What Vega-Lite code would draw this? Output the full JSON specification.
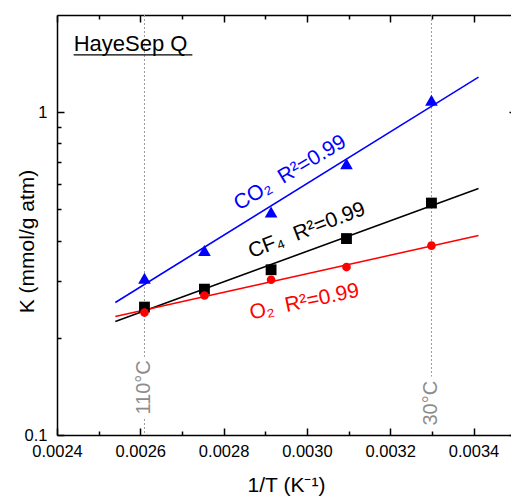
{
  "$schema": "https://vega.github.io/schema/vega-lite/v6.json",
  "width": 454,
  "height": 420,
  "autosize": "none",
  "padding": {"left": 57, "top": 15, "right": 0, "bottom": 62},
  "background": "white",
  "config": {
    "view": {"stroke": null},
    "font": "Liberation Sans",
    "axis": {
      "grid": false,
      "domainColor": "black",
      "domainWidth": 1.5,
      "tickColor": "black",
      "tickWidth": 1.5,
      "labelColor": "black",
      "titleColor": "black",
      "labelFont": "Liberation Sans",
      "titleFont": "Liberation Sans",
      "labelFontSize": 16.5,
      "titleFontSize": 21,
      "titleFontWeight": "normal",
      "labelFlush": false,
      "labelOverlap": false
    }
  },
  "datasets": {
    "points": [
      {"gas": "CO2", "invT": 0.00261, "K": 0.306},
      {"gas": "CO2", "invT": 0.002754, "K": 0.373},
      {"gas": "CO2", "invT": 0.002914, "K": 0.491},
      {"gas": "CO2", "invT": 0.003095, "K": 0.692},
      {"gas": "CO2", "invT": 0.003299, "K": 1.089},
      {"gas": "CF4", "invT": 0.00261, "K": 0.249},
      {"gas": "CF4", "invT": 0.002754, "K": 0.283},
      {"gas": "CF4", "invT": 0.002914, "K": 0.325},
      {"gas": "CF4", "invT": 0.003095, "K": 0.406},
      {"gas": "CF4", "invT": 0.003299, "K": 0.523},
      {"gas": "O2", "invT": 0.00261, "K": 0.2395},
      {"gas": "O2", "invT": 0.002754, "K": 0.2705},
      {"gas": "O2", "invT": 0.002914, "K": 0.3027},
      {"gas": "O2", "invT": 0.003095, "K": 0.3313},
      {"gas": "O2", "invT": 0.003299, "K": 0.386}
    ],
    "fits": [
      {"gas": "CO2", "invT": 0.00254, "K": 0.2573},
      {"gas": "CO2", "invT": 0.003412, "K": 1.284},
      {"gas": "CF4", "invT": 0.00254, "K": 0.2246},
      {"gas": "CF4", "invT": 0.003412, "K": 0.58},
      {"gas": "O2", "invT": 0.00254, "K": 0.2328},
      {"gas": "O2", "invT": 0.003412, "K": 0.415}
    ],
    "temps": [
      {"label": "110°C", "invT": 0.00261, "K": 0.1404},
      {"label": "30°C", "invT": 0.003299, "K": 0.1254}
    ],
    "guides": [
      {"invT": 0.00261, "top": 2, "bottom": 0.1746},
      {"invT": 0.00261, "top": 0.1121, "bottom": 0.1},
      {"invT": 0.003299, "top": 2, "bottom": 0.1517}
    ],
    "notes": [
      {"gas": "CO2", "label": "CO₂\u00a0\u00a0R²=0.99", "invT": 0.00296, "K": 0.648},
      {"gas": "CF4", "label": "CF₄\u00a0\u00a0R²=0.99", "invT": 0.0030, "K": 0.43},
      {"gas": "O2", "label": "O₂\u00a0\u00a0R²=0.99", "invT": 0.002994, "K": 0.258}
    ],
    "titleRow": [
      {"label": "HayeSep Q", "invT": 0.00244, "invT2": 0.002725, "K": 1.546, "Kline": 1.505}
    ]
  },
  "resolve": {"axis": {"x": "independent", "y": "independent"}},
  "layer": [
    {
      "data": {"name": "guides"},
      "mark": {"type": "rule", "color": "#999999", "strokeWidth": 1, "strokeDash": [2, 2]},
      "encoding": {
        "x": {"field": "invT", "type": "quantitative",
          "scale": {"domain": [0.0024, 0.00349], "nice": false, "zero": false},
          "axis": {"orient": "bottom", "title": "1/T (K⁻¹)", "values": [0.0024, 0.0026, 0.0028, 0.003, 0.0032, 0.0034],
            "format": ".4f", "tickSize": -7, "labelPadding": 15, "titleX": 229, "titleY": 56, "titleBaseline": "alphabetic", "titleAnchor": "middle", "titleAlign": "center"}},
        "y": {"field": "top", "type": "quantitative",
          "scale": {"type": "log", "domain": [0.1, 2], "nice": false},
          "axis": {"orient": "left", "title": "K (mmol/g atm)", "values": [0.1, 1], "format": "~g", "tickSize": -7, "labelPadding": 17,
            "titleX": -23.5, "titleY": 226, "titleBaseline": "alphabetic", "titleAlign": "center", "titleAngle": 270}},
        "y2": {"field": "bottom"}
      }
    },
    {
      "data": {"name": "fits"},
      "mark": {"type": "line", "strokeWidth": 1.5},
      "encoding": {
        "x": {"field": "invT", "type": "quantitative",
          "axis": {"orient": "bottom", "values": [0.0025, 0.0027, 0.0029, 0.0031, 0.0033], "labels": false, "domain": false, "tickSize": -4, "title": null}},
        "y": {"field": "K", "type": "quantitative",
          "axis": {"orient": "left", "values": [0.2, 0.3, 0.4, 0.5, 0.6, 0.7, 0.8, 0.9], "labels": false, "domain": false, "tickSize": -4, "title": null}},
        "color": {"field": "gas", "type": "nominal", "legend": null,
          "scale": {"domain": ["CO2", "CF4", "O2"], "range": ["#0000ff", "#000000", "#ff0000"]}},
        "detail": {"field": "gas"}
      }
    },
    {
      "data": {"name": "points"},
      "mark": {"type": "point", "filled": true, "opacity": 1},
      "encoding": {
        "x": {"field": "invT", "type": "quantitative",
          "axis": {"orient": "top", "values": [0.0024, 0.0026, 0.0028, 0.003, 0.0032, 0.0034], "labels": false, "tickSize": -7, "title": null}},
        "y": {"field": "K", "type": "quantitative",
          "axis": {"orient": "right", "values": [0.1, 1], "labels": false, "tickSize": -7, "title": null, "offset": 5}},
        "color": {"field": "gas", "type": "nominal", "legend": null},
        "shape": {"field": "gas", "type": "nominal", "legend": null,
          "scale": {"domain": ["CO2", "CF4", "O2"], "range": ["triangle-up", "square", "circle"]}},
        "size": {"field": "gas", "type": "nominal", "legend": null,
          "scale": {"domain": ["CO2", "CF4", "O2"], "range": [160, 75, 90]}}
      }
    },
    {
      "data": {"name": "titleRow"},
      "mark": {"type": "rule", "color": "black", "strokeWidth": 1.3},
      "encoding": {
        "x": {"field": "invT", "type": "quantitative",
          "axis": {"orient": "top", "values": [0.0025, 0.0027, 0.0029, 0.0031, 0.0033], "labels": false, "domain": false, "tickSize": -4, "title": null}},
        "x2": {"field": "invT2"},
        "y": {"field": "Kline", "type": "quantitative",
          "axis": {"orient": "right", "values": [0.2, 0.3, 0.4, 0.5, 0.6, 0.7, 0.8, 0.9], "labels": false, "domain": false, "tickSize": -4, "title": null, "offset": 5}}
      }
    },
    {
      "data": {"name": "titleRow"},
      "mark": {"type": "text", "align": "left", "baseline": "alphabetic", "fontSize": 22, "font": "Liberation Sans", "color": "black"},
      "encoding": {
        "x": {"field": "invT", "type": "quantitative", "axis": null},
        "y": {"field": "K", "type": "quantitative", "axis": null},
        "text": {"field": "label"}
      }
    },
    {
      "data": {"name": "temps"},
      "mark": {"type": "text", "align": "center", "baseline": "middle", "angle": 270, "fontSize": 20, "font": "Liberation Sans", "color": "#8c8c8c"},
      "encoding": {
        "x": {"field": "invT", "type": "quantitative", "axis": null},
        "y": {"field": "K", "type": "quantitative", "axis": null},
        "text": {"field": "label"}
      }
    },
    {
      "data": {"name": "notes"},
      "transform": [{"filter": "datum.gas === 'CO2'"}],
      "mark": {"type": "text", "align": "center", "baseline": "middle", "angle": -31, "fontSize": 21, "font": "Liberation Sans"},
      "encoding": {
        "x": {"field": "invT", "type": "quantitative", "axis": null},
        "y": {"field": "K", "type": "quantitative", "axis": null},
        "text": {"field": "label"},
        "color": {"field": "gas", "type": "nominal", "legend": null}
      }
    },
    {
      "data": {"name": "notes"},
      "transform": [{"filter": "datum.gas === 'CF4'"}],
      "mark": {"type": "text", "align": "center", "baseline": "middle", "angle": -21, "fontSize": 21, "font": "Liberation Sans"},
      "encoding": {
        "x": {"field": "invT", "type": "quantitative", "axis": null},
        "y": {"field": "K", "type": "quantitative", "axis": null},
        "text": {"field": "label"},
        "color": {"field": "gas", "type": "nominal", "legend": null}
      }
    },
    {
      "data": {"name": "notes"},
      "transform": [{"filter": "datum.gas === 'O2'"}],
      "mark": {"type": "text", "align": "center", "baseline": "middle", "angle": -12, "fontSize": 21, "font": "Liberation Sans"},
      "encoding": {
        "x": {"field": "invT", "type": "quantitative", "axis": null},
        "y": {"field": "K", "type": "quantitative", "axis": null},
        "text": {"field": "label"},
        "color": {"field": "gas", "type": "nominal", "legend": null}
      }
    }
  ]
}
